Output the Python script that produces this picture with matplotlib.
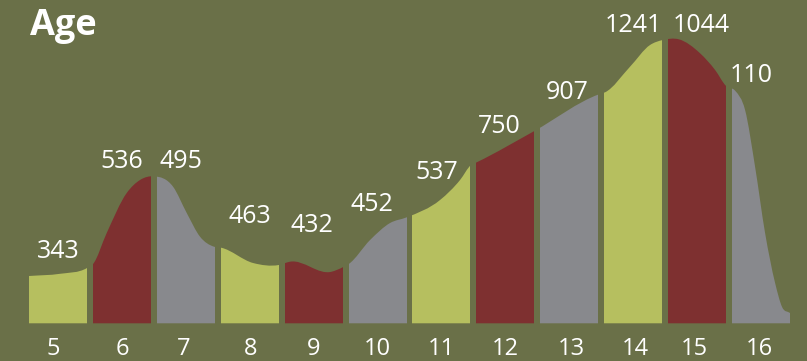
import numpy as np
import matplotlib.pyplot as plt
from matplotlib.path import Path
from matplotlib.patches import PathPatch, Rectangle

ages = [5, 6, 7, 8, 9, 10, 11, 12, 13, 14, 15, 16]
counts = [343, 536, 495, 463, 432, 452, 537, 750, 907, 1241, 1044, 110]

# outline of the smooth silhouette
# (x in age units, height in drawing units above the baseline)
shape_x = [4.546, 5.03, 5.454, 5.548, 5.762, 6.075, 6.283, 6.502, 6.80, 7.014,
           7.222, 7.441, 7.551, 8.052, 8.454, 8.631, 9.283, 9.455, 9.549, 9.883,
           10.196, 10.457, 10.978, 11.291, 11.463, 11.552, 12.454,
           13.466, 13.56, 13.951, 14.264, 14.463, 14.713, 15.047, 15.282, 15.454,
           15.595, 15.751, 15.908, 16.064, 16.221, 16.33, 16.455]
shape_h = [47.3, 49.5, 55.3, 59.3, 90.3, 130.3, 143.3, 147.0, 136.6, 110.3,
           86.6, 76.6, 75.6, 60.3, 58.3, 61.6, 51.6, 56.0, 59.3, 83.3,
           100.3, 106.0, 123.3, 143.3, 158.3, 161.0, 192.3,
           229.0, 231.0, 256.6, 278.3, 283.3, 284.0, 270.0, 253.3, 237.3,
           232.6, 213.3, 156.3, 90.3, 40.3, 16.3, 10.3]

# layout
label_h = [65, 155, 155, 100, 91.6, 112.3, 144.3, 190, 224.3, 291.6, 291.6, 241.6]
label_dx = [0, 0, -0.08, 0, -0.03, -0.09, -0.08, -0.09, -0.03, 0, 0.06, -0.15]
tick_dx = [-0.08, 0, -0.04, 0.02, 0, 0, 0, 0, 0.03, 0.04, -0.05, -0.03]
palette = ['#b6bf5f', '#7e3030', '#88898d']
bg = '#6a7048'
half_w = 0.454

plt.rcParams['font.family'] = ['Open Sans', 'DejaVu Sans']

fig = plt.figure(figsize=(8.07, 3.61), dpi=100)
fig.patch.set_facecolor(bg)
ax = fig.add_axes([0, 0, 1, 1])
ax.set_facecolor(bg)
ax.set_xlim(4.092, 16.72)
ax.set_ylim(-37.7, 323.3)
ax.set_axis_off()

# smooth outline as cubic bezier (hermite tangents through the read points)
x = np.array(shape_x)
h = np.array(shape_h)
m = np.gradient(h, x)
verts = [(x[0], 0), (x[0], h[0])]
codes = [Path.MOVETO, Path.LINETO]
for i in range(len(x) - 1):
    dx = (x[i + 1] - x[i]) / 3
    verts += [(x[i] + dx, h[i] + m[i] * dx),
              (x[i + 1] - dx, h[i + 1] - m[i + 1] * dx),
              (x[i + 1], h[i + 1])]
    codes += [Path.CURVE4] * 3
verts += [(x[-1], 0), (x[0], 0)]
codes += [Path.LINETO, Path.CLOSEPOLY]
outline = Path(verts, codes)

for i, a in enumerate(ages):
    patch = PathPatch(outline, facecolor=palette[i % 3], edgecolor='none')
    ax.add_patch(patch)
    clip = Rectangle((a - half_w, -5), 2 * half_w, 400, transform=ax.transData)
    patch.set_clip_path(clip)
    ax.text(a + label_dx[i], label_h[i], str(counts[i]), color='white',
            fontsize=18, ha='center', va='baseline')
    ax.text(a + tick_dx[i], -31.7, str(a), color='white', fontsize=17,
            ha='center', va='baseline')

ax.text(4.562, 288.3, 'Age', color='white', fontsize=26, fontweight='bold',
        ha='left', va='baseline')

fig.savefig('out.png', dpi=100, facecolor=bg)
